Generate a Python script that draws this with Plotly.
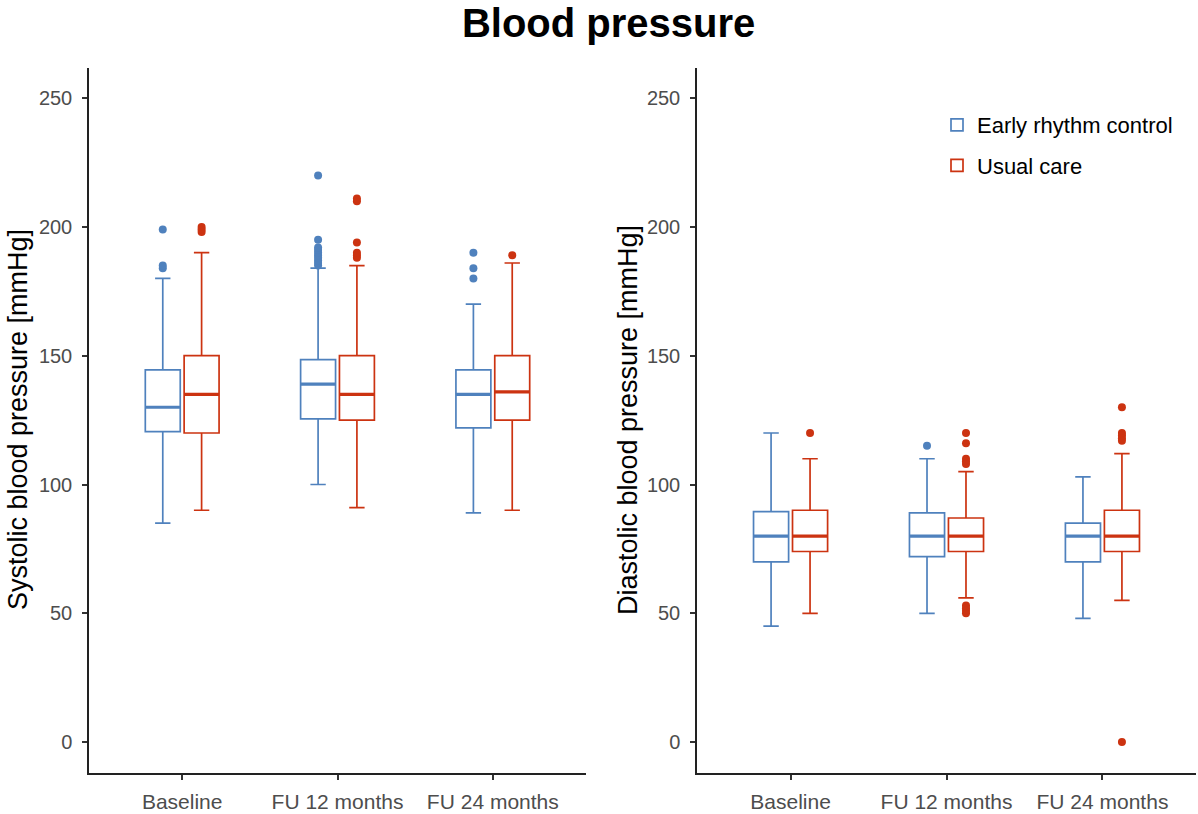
import numpy as np
import plotly.graph_objects as go

# ---------------- data ----------------
visits = ["Baseline", "FU 12 months", "FU 24 months"]
groups = ["Early rhythm control", "Usual care"]

# Systolic
sys_erc_q1 = [120.5, 125.5, 122]
sys_erc_med = [130, 139, 135]
sys_erc_q3 = [144.5, 148.5, 144.5]
sys_erc_lo = [85, 100, 89]
sys_erc_hi = [180, 184, 170]
sys_erc_out = [[199, 184, 185],
               [220, 195, 185, 186, 187, 188, 189, 190, 191, 192],
               [190, 184, 180]]

sys_uc_q1 = [120, 125, 125]
sys_uc_med = [135, 135, 136]
sys_uc_q3 = [150, 150, 150]
sys_uc_lo = [90, 91, 90]
sys_uc_hi = [190, 185, 186]
sys_uc_out = [[198, 199, 200],
              [210, 211, 194, 188, 189, 190],
              [189]]

# Diastolic
dia_erc_q1 = [70, 72, 70]
dia_erc_med = [80, 80, 80]
dia_erc_q3 = [89.5, 89, 85]
dia_erc_lo = [45, 50, 48]
dia_erc_hi = [120, 110, 103]
dia_erc_out = [[], [115], []]

dia_uc_q1 = [74, 74, 74]
dia_uc_med = [80, 80, 80]
dia_uc_q3 = [90, 87, 90]
dia_uc_lo = [50, 56, 55]
dia_uc_hi = [110, 105, 112]
dia_uc_out = [[120],
              [120, 116, 110, 109, 108, 53, 52, 51, 50],
              [130, 120, 119, 118, 117, 0]]

y_ticks = [0, 50, 100, 150, 200, 250]

# ---------------- style ----------------
BLUE = "#4F81BD"
RED = "#CC3311"
colors = [BLUE, RED]
FONT = "Liberation Sans, Arial, sans-serif"
DODGE = 0.125
BOXW = 0.225

fig = go.Figure()

panels = [
    ("x", "y", [
        (sys_erc_q1, sys_erc_med, sys_erc_q3, sys_erc_lo, sys_erc_hi, sys_erc_out),
        (sys_uc_q1, sys_uc_med, sys_uc_q3, sys_uc_lo, sys_uc_hi, sys_uc_out),
    ]),
    ("x2", "y2", [
        (dia_erc_q1, dia_erc_med, dia_erc_q3, dia_erc_lo, dia_erc_hi, dia_erc_out),
        (dia_uc_q1, dia_uc_med, dia_uc_q3, dia_uc_lo, dia_uc_hi, dia_uc_out),
    ]),
]

cat_pos = np.arange(1, len(visits) + 1)

for pi, (xa, ya, series) in enumerate(panels):
    for gi, (q1, med, q3, lo, hi, outs) in enumerate(series):
        off = -DODGE if gi == 0 else DODGE
        xpos = cat_pos + off
        col = colors[gi]
        fig.add_trace(go.Box(
            x=xpos, q1=q1, median=med, q3=q3, lowerfence=lo, upperfence=hi,
            width=BOXW, whiskerwidth=0.44,
            line=dict(color=col, width=1.7), fillcolor="white",
            name=groups[gi], legendgroup=groups[gi],
            showlegend=(pi == 1), xaxis=xa, yaxis=ya,
            boxpoints=False, hoverinfo="skip",
        ))
        # thicker median line
        fig.add_trace(go.Box(
            x=xpos, q1=med, median=med, q3=med, lowerfence=med, upperfence=med,
            width=BOXW, whiskerwidth=0,
            line=dict(color=col, width=3.2), fillcolor="rgba(0,0,0,0)",
            showlegend=False, xaxis=xa, yaxis=ya, boxpoints=False,
            hoverinfo="skip",
        ))
        ox, oy = [], []
        for ci, vals in enumerate(outs):
            ox += [xpos[ci]] * len(vals)
            oy += list(vals)
        fig.add_trace(go.Scatter(
            x=ox, y=oy, mode="markers",
            marker=dict(color=col, size=8),
            showlegend=False, xaxis=xa, yaxis=ya, hoverinfo="skip",
        ))

W, H = 1198, 814
left_dom = [89 / W, 586 / W]
right_dom = [697 / W, 1196 / W]
y_dom = [(H - 773) / H, (H - 68) / H]

xcommon = dict(range=[0.4, 3.6], tickvals=list(cat_pos), ticktext=visits,
               showline=True, linecolor="#222222", linewidth=1.5,
               ticks="outside", ticklen=5, tickcolor="#333333", tickwidth=1.5,
               showgrid=False, zeroline=False,
               tickfont=dict(family=FONT, size=21, color="#4D4D4D"),
               ticklabelstandoff=4)
ycommon = dict(range=[-12.0, 261.7], tickvals=y_ticks,
               showline=True, linecolor="#222222", linewidth=1.5,
               ticks="outside", ticklen=5, tickcolor="#333333", tickwidth=1.5,
               showgrid=False, zeroline=False,
               tickfont=dict(family=FONT, size=20, color="#4D4D4D"),
               ticklabelstandoff=6)

fig.update_layout(
    width=W, height=H,
    margin=dict(l=0, r=0, t=0, b=0),
    paper_bgcolor="white", plot_bgcolor="white",
    showlegend=True,
    xaxis=dict(domain=left_dom, anchor="y", **xcommon),
    yaxis=dict(domain=y_dom, anchor="x", **ycommon),
    xaxis2=dict(domain=right_dom, anchor="y2", **xcommon),
    yaxis2=dict(domain=y_dom, anchor="x2", **ycommon),
    title=dict(text="<b>Blood pressure</b>", x=0.508, xanchor="center",
               y=1 - 23 / H, yanchor="middle",
               font=dict(family=FONT, size=40, color="black")),
    legend=dict(x=937 / W, y=1 - 104 / H, xanchor="left", yanchor="top",
                font=dict(family=FONT, size=22, color="black"),
                bgcolor="rgba(0,0,0,0)", tracegroupgap=9),
    annotations=[
        dict(text="Systolic blood pressure [mmHg]", textangle=-90,
             x=18 / W, y=0.484, xref="paper", yref="paper",
             xanchor="center", yanchor="middle", showarrow=False,
             font=dict(family=FONT, size=27, color="black")),
        dict(text="Diastolic blood pressure [mmHg]", textangle=-90,
             x=628 / W, y=0.484, xref="paper", yref="paper",
             xanchor="center", yanchor="middle", showarrow=False,
             font=dict(family=FONT, size=27, color="black")),
    ],
)

fig.write_html(
    "out.html",
    config={"displayModeBar": False},
    post_script="document.body.style.margin='0';document.body.style.overflow='hidden';",
)
